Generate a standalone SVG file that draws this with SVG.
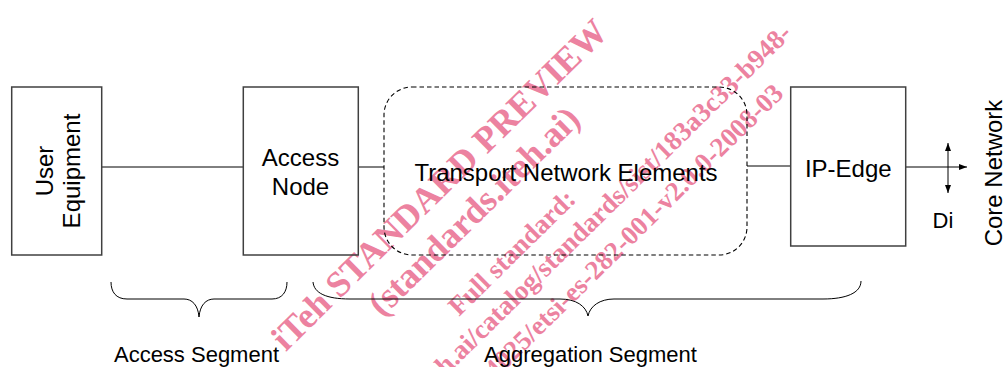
<svg xmlns="http://www.w3.org/2000/svg" width="1007" height="367" viewBox="0 0 1007 367">
<style>
.box{fill:none;stroke:#404040;stroke-width:1.5}
.ln{fill:none;stroke:#000;stroke-width:1}
.dash{fill:none;stroke:#000;stroke-width:1.1;stroke-dasharray:4.5 3}
.t{font-family:"Liberation Sans",Arial,sans-serif;font-size:24px;fill:#000;text-anchor:middle}
.s{font-size:22px}
.wm{font-family:"Liberation Serif","Times New Roman",serif;font-weight:bold;fill:#ec82a0}
</style>
<defs>
<marker id="ah" viewBox="0 0 8 6" refX="8" refY="3" markerWidth="8" markerHeight="6" markerUnits="userSpaceOnUse" orient="auto-start-reverse">
<path d="M0,0 L8,3 L0,6 Z" fill="#000"/>
</marker>
</defs>
<rect width="1007" height="367" fill="#fff"/>
<g id="watermark">
<text class="wm" font-size="36" text-anchor="middle" transform="translate(447.7,193.1) rotate(-44.5)">iTeh STANDARD PREVIEW</text>
<text class="wm" font-size="36" text-anchor="middle" transform="translate(482.2,219.6) rotate(-44.5)">(standards.iteh.ai)</text>
<text class="wm" font-size="27" text-anchor="middle" transform="translate(518.1,258.9) rotate(-44.5)">Full standard:</text>
<text class="wm" font-size="27" text-anchor="end" transform="translate(793,35) rotate(-44.5)">h.ai/catalog/standards/sist/183a3c33-b948-</text>
<text class="wm" font-size="27" text-anchor="end" transform="translate(785,95) rotate(-44.5)">4025/etsi-es-282-001-v2.0.0-2008-03</text>
</g>
<g id="connectors">
<line class="ln" x1="102" y1="167" x2="243" y2="167"/>
<line class="ln" x1="358" y1="167" x2="384" y2="167"/>
<line class="ln" x1="747" y1="166" x2="791" y2="166"/>
<line class="ln" x1="906" y1="167" x2="967" y2="167" marker-end="url(#ah)"/>
<line class="ln" x1="948" y1="143" x2="948" y2="193" marker-start="url(#ah)" marker-end="url(#ah)"/>
</g>
<g id="user-equipment">
<rect class="box" x="11.7" y="87" width="90" height="168"/>
<text class="t" transform="translate(53,171) rotate(-90)">User</text>
<text class="t" transform="translate(80,171) rotate(-90)">Equipment</text>
</g>
<g id="access-node">
<rect class="box" x="243.3" y="87" width="115" height="168"/>
<text class="t" x="300.5" y="166">Access</text>
<text class="t" x="300.5" y="195">Node</text>
</g>
<g id="transport">
<rect class="dash" x="384" y="87" width="363" height="168" rx="28" ry="28"/>
<text class="t" x="566" y="181" font-size="25">Transport Network Elements</text>
</g>
<g id="ip-edge">
<rect class="box" x="790.7" y="87" width="115" height="159"/>
<text class="t" x="848.3" y="177">IP-Edge</text>
</g>
<g id="di">
<text class="t s" x="943" y="228">Di</text>
</g>
<g id="core-network">
<text class="t" transform="translate(1002,173) rotate(-90)">Core Network</text>
</g>
<g id="access-segment">
<path class="ln" d="M111,282 C111,292 116,299 127,299 L184,299 C192,299 198,305 199,317 C200,305 206,299 214,299 L272,299 C282,299 287,292 287,282"/>
<text class="t s" x="196.5" y="362">Access Segment</text>
</g>
<g id="aggregation-segment">
<path class="ln" d="M313,282 C314,293 326,299 350,299 L560,299 C576,299 586,306 588,316 C590,306 600,299 614,299 L823,299 C846,299 861,293 861,281"/>
<text class="t s" x="590.5" y="362">Aggregation Segment</text>
</g>
</svg>
